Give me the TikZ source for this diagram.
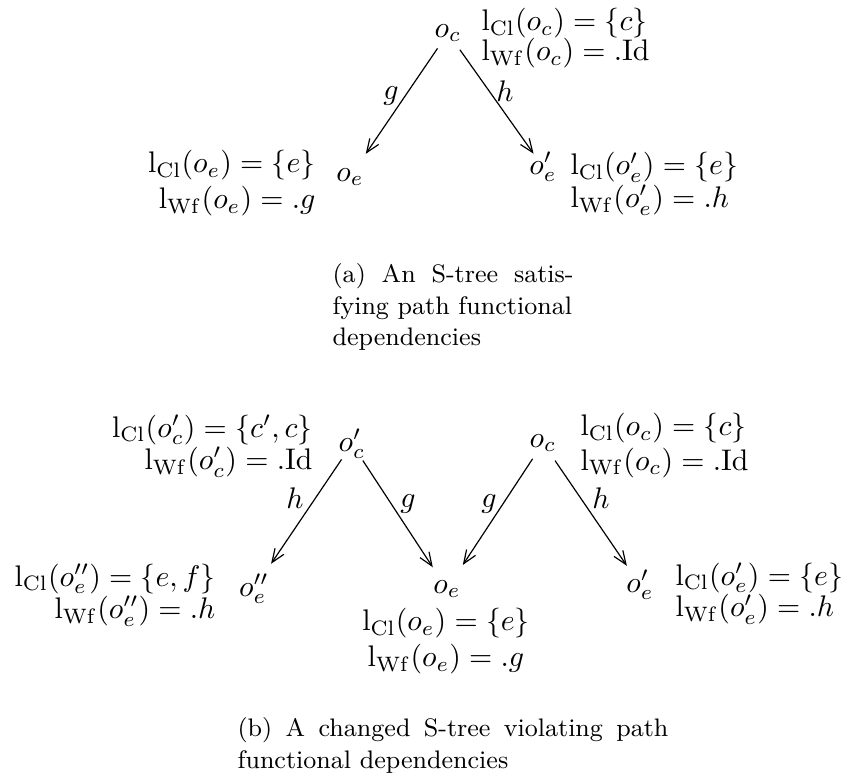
\documentclass[tikz,border=0pt]{standalone}
\usetikzlibrary{arrows.meta}
\begin{document}
\begin{tikzpicture}[x=0.3356pt,y=-0.3356pt,
  obj/.style={inner sep=0pt},
  lab/.style={inner sep=0pt},
  elab/.style={inner sep=0pt},
  arr/.style={draw, line width=0.4pt, -{Straight Barb[length=4.5pt,width=3.6pt]}},
  captext/.style={inner sep=0pt, align=left, font=\fontsize{8.5pt}{10.57pt}\selectfont}]
\useasboundingbox (0,0) rectangle (849,780);

% ---------- (a) ----------
\node[obj] (oc1) at (448,33) {$o_c$};
\node[obj] (oe1) at (350,177) {$o_e$};
\node[obj] (oe1p) at (543,167) {$o'_e$};

\draw[arr, shorten <=6.24pt, shorten >=9.4pt] (oc1.center) -- (oe1.center);
\draw[arr, shorten <=6.91pt, shorten >=5.47pt] (oc1.center) -- (oe1p.center);

\node[elab] (ga) at (391,96) {$g$};
\node[elab] (ha) at (505,91) {$h$};

\node[lab, anchor=north west, align=left] (lc1) at (481,8)
  {$\mathrm{l}_{\mathrm{Cl}}(o_c) = \{c\}$\\[-2pt]
   $\mathrm{l}_{\mathrm{Wf}}(o_c) = .\mathrm{Id}$};
\node[lab, anchor=north east, align=right] (le1) at (316,150)
  {$\mathrm{l}_{\mathrm{Cl}}(o_e) = \{e\}$\\
   $\mathrm{l}_{\mathrm{Wf}}(o_e) = .g$};
\node[lab, anchor=north west, align=left] (le1p) at (570,152)
  {$\mathrm{l}_{\mathrm{Cl}}(o'_e) = \{e\}$\\[-1pt]
   $\mathrm{l}_{\mathrm{Wf}}(o'_e) = .h$};

\node[captext, anchor=north west] (capa) at (332,263)
  {\makebox[80.9pt][s]{(a) An S-tree satis-}\\
   fying path functional\\
   dependencies};

% ---------- (b) ----------
\node[obj] (oc2p) at (352,444) {$o'_c$};
\node[obj] (oc2) at (543,443) {$o_c$};
\node[obj] (oe2pp) at (254,589) {$o''_e$};
\node[obj] (oe2) at (447,589) {$o_e$};
\node[obj] (oe2p) at (640,585) {$o'_e$};

\draw[arr, shorten <=6.24pt, shorten >=10.23pt] (oc2p.center) -- (oe2pp.center);
\draw[arr, shorten <=6.64pt, shorten >=8.72pt] (oc2p.center) -- (oe2.center);
\draw[arr, shorten <=6.34pt, shorten >=9.66pt] (oc2.center) -- (oe2.center);
\draw[arr, shorten <=7.15pt, shorten >=7.82pt] (oc2.center) -- (oe2p.center);

\node[elab] (hb1) at (295,498) {$h$};
\node[elab] (gb1) at (408,504) {$g$};
\node[elab] (gb2) at (489,504) {$g$};
\node[elab] (hb2) at (601,498) {$h$};

\node[lab, anchor=north east, align=right] (lc2p) at (313,414)
  {$\mathrm{l}_{\mathrm{Cl}}(o'_c) = \{c', c\}$\\[-1pt]
   $\mathrm{l}_{\mathrm{Wf}}(o'_c) = .\mathrm{Id}$};
\node[lab, anchor=north west, align=left] (lc2) at (580,413)
  {$\mathrm{l}_{\mathrm{Cl}}(o_c) = \{c\}$\\[-0.5pt]
   $\mathrm{l}_{\mathrm{Wf}}(o_c) = .\mathrm{Id}$};
\node[lab, anchor=north east, align=right] (le2pp) at (216,563)
  {$\mathrm{l}_{\mathrm{Cl}}(o''_e) = \{e, f\}$\\[-1pt]
   $\mathrm{l}_{\mathrm{Wf}}(o''_e) = .h$};
\node[lab, anchor=north, align=center] (le2) at (446,608)
  {$\mathrm{l}_{\mathrm{Cl}}(o_e) = \{e\}$\\
   $\mathrm{l}_{\mathrm{Wf}}(o_e) = .g$};
\node[lab, anchor=north west, align=left] (le2p) at (675,562)
  {$\mathrm{l}_{\mathrm{Cl}}(o'_e) = \{e\}$\\[-1.3pt]
   $\mathrm{l}_{\mathrm{Wf}}(o'_e) = .h$};

\node[captext, anchor=north west] (capb) at (237,717)
  {\makebox[144.6pt][s]{(b) A changed S-tree violating path}\\
   functional dependencies};
\end{tikzpicture}
\end{document}
